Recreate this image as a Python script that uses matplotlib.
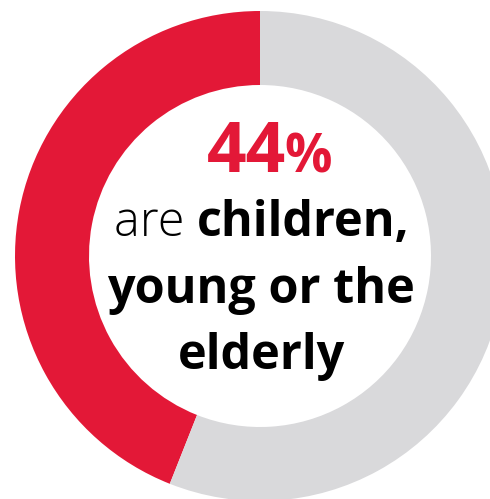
import matplotlib
matplotlib.use("Agg")
import matplotlib.pyplot as plt

labels = ["Children, young or elderly", "Others"]
values = [44, 56]
colors = ["#e31837", "#d9d9db"]
headline = "44"
pct_sign = "%"
line1_light = "are "
line1_bold = "children,"
line2 = "young or the"
line3 = "elderly"

W, H = 490, 499
fig = plt.figure(figsize=(W / 100, H / 100), dpi=100)
ax = fig.add_axes([0, 0, 1, 1])
ax.set_xlim(0, W)
ax.set_ylim(0, H)
ax.set_aspect("equal")
ax.axis("off")

cx, cy = 260, H - 256
ax.pie(values, colors=colors, radius=245, center=(cx, cy), startangle=90,
       counterclock=True, wedgeprops=dict(width=74, linewidth=0))
ax.set_xlim(0, W)
ax.set_ylim(0, H)

fam = ["Open Sans", "DejaVu Sans"]
fig.canvas.draw()
r = fig.canvas.get_renderer()

def width_px(t):
    fig.canvas.draw()
    return t.get_window_extent(r).width

# headline
t1 = ax.text(0, H - 172, headline, fontsize=50, fontweight="bold", color=colors[0],
             family=fam, va="baseline", ha="left")
t2 = ax.text(0, H - 172, pct_sign, fontsize=38, fontweight="bold", color=colors[0],
             family=fam, va="baseline", ha="left")
w1, w2 = width_px(t1), width_px(t2)
x0 = 270 - (w1 + w2) / 2
t1.set_x(x0)
t2.set_x(x0 + w1 - 2)

fs = 35
a = ax.text(0, H - 236, line1_light, fontsize=fs, fontweight="light", color="black",
            family=fam, va="baseline", ha="left")
b = ax.text(0, H - 236, line1_bold, fontsize=fs, fontweight="bold", color="black",
            family=fam, va="baseline", ha="left")
wa, wb = width_px(a), width_px(b)
x0 = 262 - (wa + wb) / 2
a.set_x(x0)
b.set_x(x0 + wa)

ax.text(261, H - 303, line2, fontsize=fs, fontweight="bold", color="black",
        family=fam, va="baseline", ha="center")
ax.text(261, H - 369, line3, fontsize=fs, fontweight="bold", color="black",
        family=fam, va="baseline", ha="center")

fig.savefig("out.png", dpi=100, facecolor="white")
